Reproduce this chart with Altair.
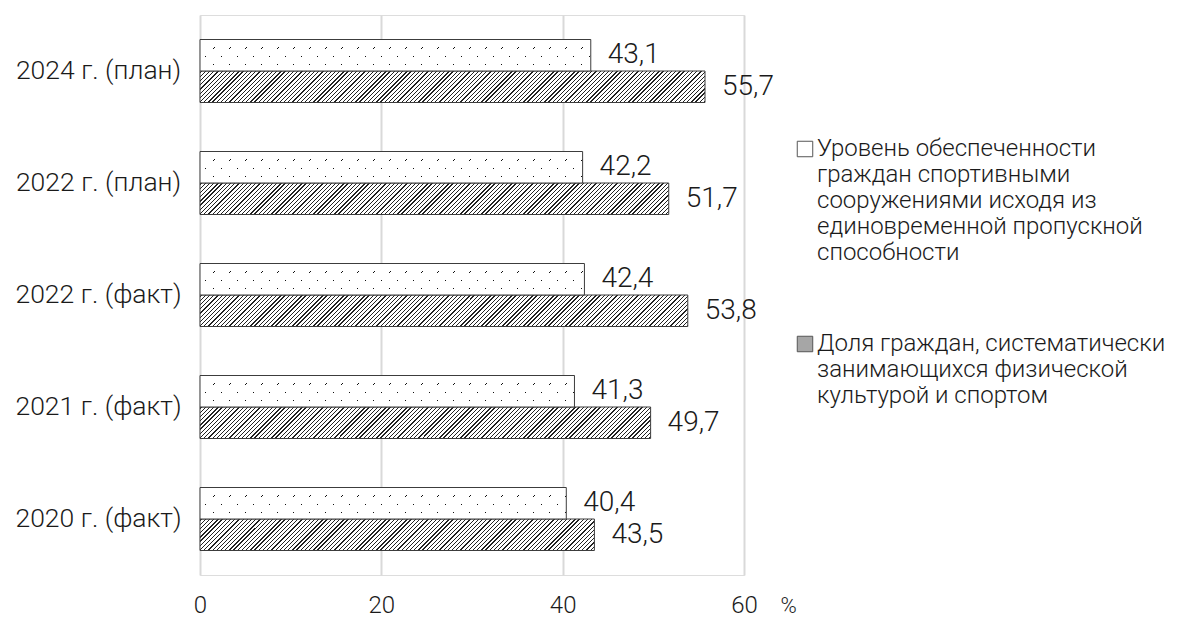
import altair as alt
import pandas as pd

# ---- data ----
categories = ["2024 г. (план)", "2022 г. (план)", "2022 г. (факт)", "2021 г. (факт)", "2020 г. (факт)"]
series_names = [
    "Уровень обеспеченности\nграждан спортивными\nсооружениями исходя из\nединовременной пропускной\nспособности",
    "Доля граждан, систематически\nзанимающихся физической\nкультурой и спортом",
]
supply_level = [43.1, 42.2, 42.4, 41.3, 40.4]
sport_share = [55.7, 51.7, 53.8, 49.7, 43.5]
x_ticks = [0, 20, 40, 60]

rows = []
for i, cat in enumerate(categories):
    for j, vals in enumerate([supply_level, sport_share]):
        v = vals[i]
        rows.append({
            "category": cat,
            "series": series_names[j],
            "sid": j,
            "key": f"{i}-{j}",
            "value": v,
            "label": f"{v:.1f}".replace(".", ","),
        })
df = pd.DataFrame(rows)

# ---- layout constants ----
W, H = 544, 560
XMAX = 60
PAD_IN, PAD_OUT = 0.4375, 0.21875
STEP = H / (len(categories) - PAD_IN + 2 * PAD_OUT)
BAR_H = STEP * (1 - PAD_IN) / 2
INK = "#1a1a1a"
EDGE = "#3c3c3c"
FONT = "Roboto"
FW = 300


def gs(o, c):
    return alt.GradientStop(offset=round(min(max(o, 0), 1), 6), color=c)


def diag_gradient(w, h, period, lw, bg, fg, phase):
    """'/'-direction stripes via a linear gradient in bbox units."""
    k = h / w
    a = (1 + k) / (1 + k * k)
    D = w + h
    stops = [gs(0, bg)]
    x = phase
    while x + lw < D:
        s, e = x / D, (x + lw) / D
        stops += [gs(s, bg), gs(s, fg), gs(e, fg), gs(e, bg)]
        x += period
    stops.append(gs(1, bg))
    return alt.Gradient(gradient="linear", stops=stops, x1=0, y1=0, x2=a, y2=a * k)


def row_mask(h, rows_at, lw):
    clear = "rgba(255,255,255,0)"
    stops = [gs(0, "white")]
    for r in rows_at:
        s, e = r / h, (r + lw) / h
        stops += [gs(s, "white"), gs(s, clear), gs(e, clear), gs(e, "white")]
    stops.append(gs(1, "white"))
    return alt.Gradient(gradient="linear", stops=stops, x1=0, y1=0, x2=0, y2=1)


x_enc = alt.X(
    "value:Q",
    scale=alt.Scale(domain=[0, XMAX], nice=False),
    axis=alt.Axis(
        values=x_ticks, grid=True, gridColor="#d9d9d9", gridWidth=2,
        domain=False, ticks=False, labelFontSize=24, labelFont=FONT,
        labelFontWeight=FW, labelColor=INK, labelBaseline="middle",
        labelPadding=30, labelFlush=False,
        title="%", titleFont=FONT, titleFontSize=22, titleFontWeight=FW,
        titleColor=INK, titleX=588, titleY=30, titleBaseline="middle",
        titleAlign="center",
    ),
)
y_enc = alt.Y(
    "category:N", sort=categories,
    scale=alt.Scale(paddingInner=PAD_IN, paddingOuter=PAD_OUT),
    axis=alt.Axis(title=None, labelFontSize=26.5, labelFont=FONT,
                  labelFontWeight=FW, labelColor=INK, labelAlign="center",
                  labelPadding=102, ticks=False, domain=False, grid=False,
                  labelLimit=260),
)
yo_enc = alt.YOffset("series:N", sort=series_names,
                     scale=alt.Scale(paddingInner=0, paddingOuter=0))

base = alt.Chart().encode(x=x_enc, y=y_enc, yOffset=yo_enc)

layers = []
# invisible layer that carries the legend
layers.append(
    base.mark_bar(opacity=0).encode(
        fill=alt.Fill(
            "series:N", sort=series_names,
            scale=alt.Scale(domain=series_names, range=["white", "#a6a6a6"]),
            legend=alt.Legend(
                title=None, orient="none", legendX=593, legendY=122,
                direction="vertical", padding=0,
                labelExpr="split(datum.label, '\\n')",
                labelFont=FONT, labelFontSize=24, labelFontWeight=FW,
                labelColor=INK, labelLimit=500, labelOffset=0,
                labelBaseline="middle",
                symbolType="square", symbolSize=240, symbolOpacity=1,
                symbolStrokeColor="#555555", symbolStrokeWidth=1,
                rowPadding=67,
            ),
        )
    )
)

# hatched bars (second series), one gradient per bar
for i, v in enumerate(sport_share):
    w = v * W / XMAX
    layers.append(
        base.mark_bar(
            fill=diag_gradient(w, BAR_H, 4.2, 1.3, "white", "#222222", 1.0),
            stroke=EDGE, strokeWidth=1,
        ).transform_filter(alt.FieldEqualPredicate(field="key", equal=f"{i}-1"))
    )

# dotted bars (first series): diagonal lines masked by rows -> staggered dots
for i, v in enumerate(supply_level):
    w = v * W / XMAX
    layers.append(
        base.mark_bar(
            fill=diag_gradient(w, BAR_H, 16.0, 1.3, "white", "#111111", 6.0),
        ).transform_filter(alt.FieldEqualPredicate(field="key", equal=f"{i}-0"))
    )
layers.append(
    base.mark_bar(fill=row_mask(BAR_H, [8.0, 16.3, 24.6], 1.1))
    .transform_filter(alt.FieldEqualPredicate(field="sid", equal=0))
)
layers.append(
    base.mark_bar(fillOpacity=0, stroke=EDGE, strokeWidth=1)
    .transform_filter(alt.FieldEqualPredicate(field="sid", equal=0))
)

# value labels
layers.append(
    base.mark_text(align="left", baseline="middle", dx=17, fontSize=28,
                   font=FONT, fontWeight=FW, color=INK).encode(text="label:N")
)

chart = (
    alt.layer(*layers, data=df)
    .properties(
        width=W, height=H,
        autosize=alt.AutoSizeParams(type="none"),
        padding={"left": 192, "top": 7, "right": 427, "bottom": 42},
    )
    .configure_view(stroke=None)
    .configure(font=FONT)
)

chart.save("out.html", embed_options={"renderer": "svg", "actions": False})
